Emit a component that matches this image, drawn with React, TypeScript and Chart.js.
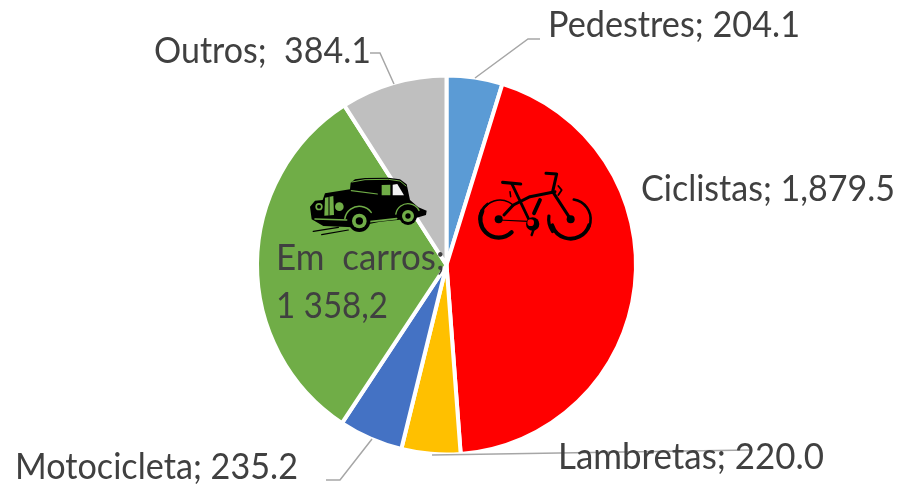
import React, { useEffect, useRef } from "react";
import { Chart, registerables } from "chart.js";

Chart.register(...registerables);

const categories = ["Pedestres", "Ciclistas", "Lambretas", "Motocicleta", "Em carros", "Outros"];
const sliceValues = [204, 1885, 215, 234, 1354, 388];
const colors = ["#5B9BD5", "#FF0000", "#FFC000", "#4472C4", "#70AD47", "#BFBFBF"];
// Label text exactly as printed on the picture
const labelLines = [
  ["Pedestres; 204.1"],
  ["Ciclistas; 1,879.5"],
  ["Lambretas; 220.0"],
  ["Motocicleta; 235.2"],
  ["Em  carros;", "1 358,2"],
  ["Outros;  384.1"],
];
const labelBoxes = [
  [[548, 25, 252]],
  [[641, 189, 254]],
  [[558, 457, 266]],
  [[15, 467, 283]],
  [[276, 258, 169], [276, 306, 112]],
  [[154, 51, 217]],
];
const leaders = [
  [[475, 78], [528, 39], [540, 39]],
  [[394, 84], [380, 53], [370, 53]],
  [[432, 455], [750, 450]],
  [[372, 439], [340, 480], [326, 480]],
];

// Zoomed-crop coordinates to page: icons only
const zx = (v: number) => 280 + v / 3;
const zy = (v: number) => 150 + v / 3;

function poly(ctx: CanvasRenderingContext2D, pts: number[][], fill: string) {
  ctx.beginPath();
  pts.forEach((p, i) => (i ? ctx.lineTo(zx(p[0]), zy(p[1])) : ctx.moveTo(zx(p[0]), zy(p[1]))));
  ctx.closePath();
  ctx.fillStyle = fill;
  ctx.fill();
}
function line(ctx: CanvasRenderingContext2D, pts: number[][], w: number, col = "#000") {
  ctx.beginPath();
  pts.forEach((p, i) => (i ? ctx.lineTo(zx(p[0]), zy(p[1])) : ctx.moveTo(zx(p[0]), zy(p[1]))));
  ctx.lineWidth = w;
  ctx.strokeStyle = col;
  ctx.lineCap = "round";
  ctx.lineJoin = "round";
  ctx.stroke();
}
function disc(ctx: CanvasRenderingContext2D, x: number, y: number, r: number, col: string) {
  ctx.beginPath();
  ctx.arc(zx(x), zy(y), r / 3, 0, Math.PI * 2);
  ctx.fillStyle = col;
  ctx.fill();
}
function arc(ctx: CanvasRenderingContext2D, x: number, y: number, r: number, a: number, b: number, w: number, col = "#000") {
  ctx.beginPath();
  ctx.arc(zx(x), zy(y), r / 3, a, b);
  ctx.lineWidth = w;
  ctx.strokeStyle = col;
  ctx.lineCap = "round";
  ctx.stroke();
}

function drawBike(ctx: CanvasRenderingContext2D) {
  const P = Math.PI;
  arc(ctx, 660, 208, 58, 1.15 * P, 1.75 * P, 1.6);
  arc(ctx, 656, 208, 55, 0.25 * P, 1.15 * P, 4.2);
  arc(ctx, 656, 208, 57, 1.0 * P, 1.3 * P, 2.6);
  arc(ctx, 872, 208, 60, 1.55 * P, 2.15 * P, 2.6);
  arc(ctx, 872, 208, 58, 0.1 * P, 0.9 * P, 3.8);
  arc(ctx, 868, 208, 62, 0.8 * P, 1.05 * P, 3.2);
  disc(ctx, 656, 208, 12, "#000");
  disc(ctx, 872, 208, 12, "#000");
  line(ctx, [[668, 97], [722, 102]], 3.2);
  line(ctx, [[695, 100], [745, 205]], 2.8);
  line(ctx, [[672, 195], [700, 165], [750, 140], [825, 125]], 3);
  line(ctx, [[798, 70], [830, 72], [818, 125], [872, 208]], 3);
  line(ctx, [[656, 210], [745, 214]], 1.2);
  line(ctx, [[762, 190], [780, 150]], 3.8);
  disc(ctx, 758, 222, 20, "#000");
  disc(ctx, 752, 218, 10, "#FF0000");
  line(ctx, [[762, 235], [755, 255]], 2.4);
  line(ctx, [[690, 125], [692, 140]], 1.5);
  line(ctx, [[835, 108], [845, 120], [835, 135]], 1.8);
}

function drawCar(ctx: CanvasRenderingContext2D) {
  const G = "#70AD47";
  // Ground shadows
  line(ctx, [[100, 244], [175, 232]], 1.4);
  line(ctx, [[125, 254], [205, 240]], 1.2);
  // Body
  poly(ctx, [
    [212, 98], [225, 88], [255, 84], [325, 83], [360, 88], [380, 103], [390, 150], [415, 172], [440, 182], [438, 195],
    [405, 205], [300, 215], [220, 232], [130, 228], [95, 208], [90, 170], [105, 152], [128, 150],
    [135, 130], [210, 118],
  ], "#000");
  // Windows
  line(ctx, [[216, 96], [255, 89], [325, 88], [360, 93], [378, 108]], 1, G);
  line(ctx, [[214, 122], [292, 132]], 1.2, G);
  poly(ctx, [[305, 105], [331, 104], [331, 136], [305, 136]], G);
  poly(ctx, [[338, 104], [352, 102], [372, 136], [338, 136]], "#F2F2F2");
  // Fenders, running board and grille
  arc(ctx, 238, 213, 44, 1.05 * Math.PI, 1.8 * Math.PI, 1.5, G);
  arc(ctx, 384, 198, 37, 1.05 * Math.PI, 1.85 * Math.PI, 1.4, G);
  line(ctx, [[105, 207], [200, 210]], 1.6, G);
  line(ctx, [[270, 215], [350, 206]], 1.6, G);
  poly(ctx, [[135, 143], [160, 138], [162, 195], [133, 197]], G);
  line(ctx, [[147, 142], [147, 196]], 1, "#000");
  disc(ctx, 178, 170, 13, G);
  disc(ctx, 117, 170, 11, G);
  disc(ctx, 117, 170, 6, "#000");
  // Wheels
  disc(ctx, 238, 213, 33, "#000");
  disc(ctx, 238, 213, 22, G);
  disc(ctx, 238, 213, 11, "#000");
  disc(ctx, 384, 198, 27, "#000");
  disc(ctx, 384, 198, 18, G);
  disc(ctx, 384, 198, 8, "#000");
}

const annotate = {
  id: "annotate",
  afterDatasetsDraw(chart: any) {
    const ctx: CanvasRenderingContext2D = chart.ctx;
    ctx.save();
    ctx.strokeStyle = "#A6A6A6";
    ctx.lineWidth = 1.5;
    ctx.lineCap = "butt";
    ctx.lineJoin = "miter";
    leaders.forEach((pts) => {
      ctx.beginPath();
      pts.forEach((p, i) => (i ? ctx.lineTo(p[0], p[1]) : ctx.moveTo(p[0], p[1])));
      ctx.stroke();
    });
    drawCar(ctx);
    drawBike(ctx);
    ctx.fillStyle = "#404040";
    ctx.font = '36px Lato, "Open Sans", sans-serif';
    ctx.textBaseline = "middle";
    ctx.textAlign = "left";
    labelLines.forEach((rows, i) => {
      rows.forEach((txt, j) => {
        const b = labelBoxes[i][j];
        ctx.fillText(txt, b[0], b[1], b[2]);
      });
    });
    ctx.restore();
  },
};

export default function App() {
  const ref = useRef<HTMLCanvasElement>(null);
  useEffect(() => {
    document.body.style.margin = "0";
    document.body.style.background = "#fff";
    const chart = new Chart(ref.current!, {
      type: "pie",
      data: {
        labels: categories,
        datasets: [
          {
            data: sliceValues,
            backgroundColor: colors,
            borderColor: "#ffffff",
            borderWidth: 4,
            hoverOffset: 0,
          },
        ],
      },
      options: {
        animation: false,
        responsive: false,
        layout: { padding: { left: 255, right: 262, top: 73, bottom: 27 } },
        plugins: { legend: { display: false }, tooltip: { enabled: false } },
      },
      plugins: [annotate],
    });
    return () => chart.destroy();
  }, []);
  return <canvas ref={ref} width={900} height={484} style={{ display: "block" }} />;
}
